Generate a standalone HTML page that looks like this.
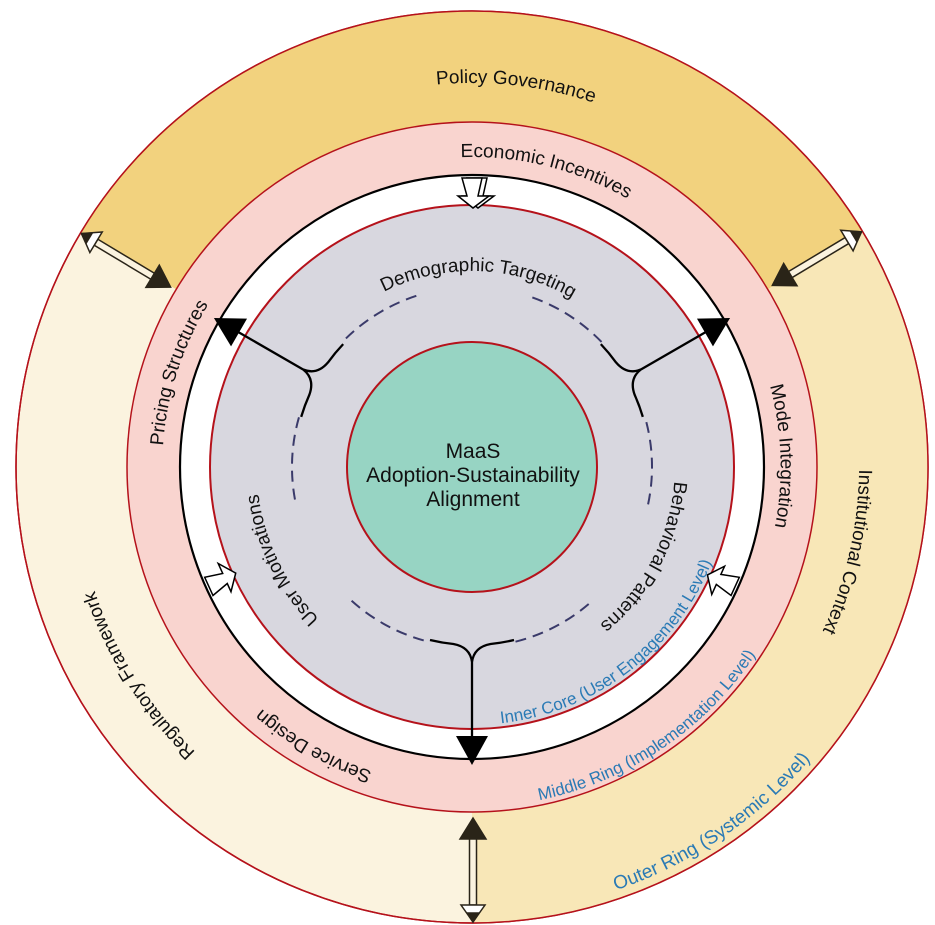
<!DOCTYPE html>
<html><head><meta charset="utf-8"><style>
html,body{margin:0;padding:0;background:#fff;}
svg{display:block;}
text{font-family:"Liberation Sans",sans-serif;}
</style></head><body>
<svg width="935" height="925" viewBox="0 0 935 925" xmlns="http://www.w3.org/2000/svg">
<defs>
<path id="p1" d="M90.5,422.9 A384,384 0 0 1 853.5,511.1"/>
<path id="p2" d="M171.2,392 A310,310 0 0 1 772.8,542"/>
<path id="p3" d="M276.1,460.2 A196,196 0 0 1 667.9,473.8"/>
<path id="p4" d="M376.9,763.1 A311,311 0 0 1 567.1,170.9"/>
<path id="p5" d="M461.1,156.2 A311,311 0 0 1 482.9,777.8"/>
<path id="p6" d="M558.6,82.7 A394,394 0 0 1 385.4,851.3"/>
<path id="p7" d="M682.4,803.7 A397,397 0 0 1 261.6,130.3"/>
<path id="p8" d="M752,626 A322,322 0 0 1 192,308"/>
<path id="p9" d="M567.6,662.9 A218,218 0 0 1 376.4,271.1"/>
<path id="p10" d="M567.1,284.3 A206,206 0 0 1 376.9,649.7"/>
<path id="p11" d="M267,623.7 A258,258 0 0 0 677,310.3"/>
<path id="p12" d="M190.1,657.1 A340,340 0 0 0 753.9,276.9"/>
<path id="p13" d="M101.4,717 A447,447 0 0 0 842.6,217"/>
</defs>

<!-- outer ring -->
<circle cx="472" cy="467" r="456" fill="#fbf3df" stroke="#b5121b" stroke-width="1.5"/>
<path d="M472,467 L81.1,232.2 A456,456 0 0 1 862.9,232.2 Z" fill="#f2d27e"/>
<path d="M472,467 L862.9,232.2 A456,456 0 0 1 472,923 Z" fill="#f8e7b7"/>
<circle cx="472" cy="467" r="456" fill="none" stroke="#b5121b" stroke-width="1.5"/>
<!-- pink ring -->
<circle cx="472" cy="467" r="345" fill="#f9d4cf" stroke="#b5121b" stroke-width="1.5"/>
<circle cx="472" cy="467" r="292" fill="#ffffff" stroke="#000" stroke-width="2.2"/>
<circle cx="472" cy="467" r="262" fill="#d8d7df" stroke="#b5121b" stroke-width="2"/>
<circle cx="472" cy="467" r="125" fill="#97d4c3" stroke="#b5121b" stroke-width="2"/>

<!-- double arrows outer ring -->
<g id="dbl" stroke="#2a2418" stroke-width="1.5">
  <polygon points="473,818 486,839 460,839" fill="#2a2418"/>
  <rect x="469.5" y="839" width="7" height="66" fill="#fbf3df"/>
  <polygon points="461,905 485,905 473,922" fill="#fff"/>
  <polygon points="467,913 479,913 473,922" fill="#2a2418"/>
</g>
<use href="#dbl" transform="rotate(121 472 467)"/>
<use href="#dbl" transform="rotate(-121 472 467)"/>

<!-- hollow arrows -->
<polygon points="467,178 487,178 483,196 494,196 478,208 463,196 472,196" fill="#fff" stroke="#000" stroke-width="1.5"/>
<g id="hol"><polygon points="462,178 482,178 478,196 489,196 473,208 458,196 467,196" fill="#fff" stroke="#000" stroke-width="1.5"/></g>
<use href="#hol" transform="rotate(245.6 472 467)"/>
<use href="#hol" transform="rotate(114.4 472 467)"/>

<!-- Y connectors -->
<g id="ybr">
  <path d="M351.6,600.8 A180,180 0 0 0 428.5,641.7 M515.5,641.7 A180,180 0 0 0 592.4,600.8" fill="none" stroke="#3a3a6a" stroke-width="2" stroke-dasharray="11 7"/>
  <path d="M430,640 A178,178 0 0 0 453.4,644 Q470,647 472,662 M514,640 A178,178 0 0 1 490.6,644 Q474,647 472,662 M472,662 L472,742" fill="none" stroke="#000" stroke-width="2.3"/>
  <polygon points="456,736 488,736 472,765" fill="#000"/>
</g>
<use href="#ybr" transform="rotate(120 472 467)"/>
<use href="#ybr" transform="rotate(-120 472 467)"/>

<!-- labels -->
<g font-size="19" fill="#111">
<text><textPath href="#p1" startOffset="50%" text-anchor="middle">Policy Governance</textPath></text>
<text><textPath href="#p2" startOffset="50%" text-anchor="middle">Economic Incentives</textPath></text>
<text><textPath href="#p3" startOffset="50%" text-anchor="middle">Demographic Targeting</textPath></text>
<text><textPath href="#p4" startOffset="50%" text-anchor="middle">Pricing Structures</textPath></text>
<text><textPath href="#p5" startOffset="50%" text-anchor="middle">Mode Integration</textPath></text>
<text><textPath href="#p6" startOffset="50%" text-anchor="middle">Institutional Context</textPath></text>
<text><textPath href="#p7" startOffset="50%" text-anchor="middle">Regulatory Framework</textPath></text>
<text><textPath href="#p8" startOffset="50%" text-anchor="middle">Service Design</textPath></text>
<text><textPath href="#p9" startOffset="50%" text-anchor="middle">User Motivations</textPath></text>
<text><textPath href="#p10" startOffset="50%" text-anchor="middle">Behavioral Patterns</textPath></text>
</g>
<g fill="#2a7ab5">
<text font-size="17"><textPath href="#p11" startOffset="50%" text-anchor="middle">Inner Core (User Engagement Level)</textPath></text>
<text font-size="17"><textPath href="#p12" startOffset="50%" text-anchor="middle">Middle Ring (Implementation Level)</textPath></text>
<text font-size="19"><textPath href="#p13" startOffset="50%" text-anchor="middle">Outer Ring (Systemic Level)</textPath></text>
</g>

<g font-size="21" fill="#111" text-anchor="middle">
<text x="473" y="458">MaaS</text>
<text x="473" y="482">Adoption-Sustainability</text>
<text x="473" y="506">Alignment</text>
</g>
</svg>
</body></html>
